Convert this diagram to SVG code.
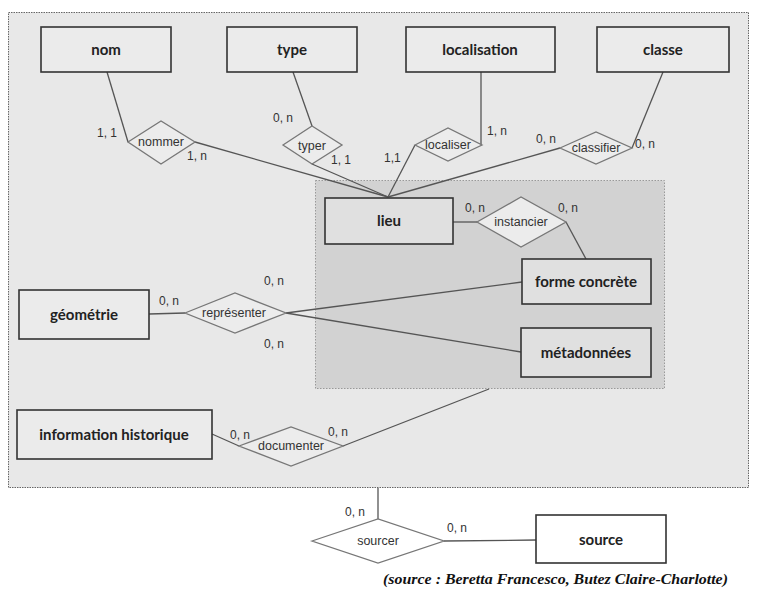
<svg xmlns="http://www.w3.org/2000/svg" width="758" height="600" viewBox="0 0 758 600">
<style>
.ent{fill:#ebebeb;stroke:#333;stroke-width:1.6}
.ent2{fill:#e0e0e0;stroke:#333;stroke-width:1.6}
.rel{fill:#ececec;stroke:#777;stroke-width:1.3}
.et{font-family:Lato,"Open Sans",sans-serif;font-weight:bold;font-size:15px;fill:#222;text-anchor:middle}
.rt{font-family:"Liberation Sans",Arial,sans-serif;font-size:12.5px;fill:#333;text-anchor:middle}
.ct{font-family:"Liberation Sans",Arial,sans-serif;font-size:12px;fill:#333}
.ln{stroke:#555;stroke-width:1.3;fill:none}
</style>
<rect width="758" height="600" fill="#fff"/>
<rect x="8.5" y="12.5" width="740" height="475" fill="#e8e8e8" stroke="#666" stroke-width="1" stroke-dasharray="1.5,1"/>
<rect x="315.5" y="180.5" width="349" height="208" fill="#d2d2d2" stroke="#999" stroke-width="1" stroke-dasharray="1.5,1.5"/>
<g id="connectors">
<line class="ln" x1="107" y1="72" x2="128" y2="142"/>
<line class="ln" x1="195" y1="142" x2="388" y2="197"/>
<line class="ln" x1="293" y1="72" x2="312" y2="126"/>
<line class="ln" x1="312" y1="164" x2="388" y2="197"/>
<line class="ln" x1="481" y1="72" x2="481" y2="145"/>
<line class="ln" x1="415" y1="145" x2="388" y2="197"/>
<line class="ln" x1="560" y1="148" x2="388" y2="197"/>
<line class="ln" x1="663" y1="72" x2="632" y2="148"/>
<line class="ln" x1="453" y1="222" x2="477" y2="222"/>
<line class="ln" x1="566" y1="222" x2="586" y2="259"/>
<line class="ln" x1="149" y1="314" x2="185" y2="313"/>
<line class="ln" x1="286" y1="313" x2="522" y2="282"/>
<line class="ln" x1="286" y1="313" x2="521" y2="352"/>
<line class="ln" x1="212" y1="434" x2="239" y2="446"/>
<line class="ln" x1="343" y1="446" x2="489" y2="389"/>
<line class="ln" x1="378" y1="488" x2="378" y2="519"/>
<line class="ln" x1="444" y1="541" x2="536" y2="540"/>
</g>
<g id="nom"><rect class="ent" x="41" y="27" width="130" height="45"/><text class="et" x="106" y="55">nom</text></g>
<g id="type"><rect class="ent" x="227" y="27" width="130" height="45"/><text class="et" x="292" y="55">type</text></g>
<g id="localisation"><rect class="ent" x="406" y="27" width="149" height="45"/><text class="et" x="480" y="55">localisation</text></g>
<g id="classe"><rect class="ent" x="597" y="27" width="132" height="45"/><text class="et" x="663" y="55">classe</text></g>
<g id="lieu"><rect class="ent2" x="325" y="198" width="128" height="46"/><text class="et" x="389" y="226">lieu</text></g>
<g id="forme"><rect class="ent2" x="522" y="259" width="129" height="45"/><text class="et" x="586" y="287">forme concrète</text></g>
<g id="metadonnees"><rect class="ent2" x="521" y="328" width="130" height="49"/><text class="et" x="586" y="358">métadonnées</text></g>
<g id="geometrie"><rect class="ent" x="19" y="290" width="130" height="49"/><text class="et" x="84" y="320">géométrie</text></g>
<g id="information"><rect class="ent" x="17" y="410" width="195" height="49"/><text class="et" x="114" y="440">information historique</text></g>
<g id="source"><rect fill="#fff" stroke="#333" stroke-width="1.6" x="536" y="515" width="130" height="48"/><text class="et" x="601" y="545">source</text></g>

<g id="nommer"><polygon class="rel" points="128,142 161,121 195,142 161,164"/><text class="rt" x="161" y="146">nommer</text></g>
<g id="typer"><polygon class="rel" points="283,145 312,126 342,145 312,164"/><text class="rt" x="312" y="150">typer</text></g>
<g id="localiser"><polygon class="rel" points="415,145 448,128 482,145 448,161"/><text class="rt" x="448" y="149">localiser</text></g>
<g id="classifier"><polygon class="rel" points="560,148 596,132 632,148 596,164"/><text class="rt" x="596" y="152">classifier</text></g>
<g id="instancier"><polygon class="rel" points="477,222 521,197 566,222 521,247"/><text class="rt" x="521" y="226">instancier</text></g>
<g id="representer"><polygon class="rel" points="185,313 235,293 286,313 235,333"/><text class="rt" x="234" y="317">représenter</text></g>
<g id="documenter"><polygon class="rel" points="239,446 291,427 343,446 291,466"/><text class="rt" x="291" y="450">documenter</text></g>
<g id="sourcer"><polygon fill="#fff" stroke="#777" stroke-width="1.3" points="312,541 378,519 444,541 378,563"/><text class="rt" x="378" y="545">sourcer</text></g>

<g id="cardinalities">
<text class="ct" x="97" y="137">1, 1</text>
<text class="ct" x="187" y="160">1, n</text>
<text class="ct" x="273" y="122">0, n</text>
<text class="ct" x="331" y="164">1, 1</text>
<text class="ct" x="384" y="162">1,1</text>
<text class="ct" x="487" y="135">1, n</text>
<text class="ct" x="536" y="143">0, n</text>
<text class="ct" x="635" y="148">0, n</text>
<text class="ct" x="465" y="212">0, n</text>
<text class="ct" x="558" y="212">0, n</text>
<text class="ct" x="264" y="285">0, n</text>
<text class="ct" x="159" y="305">0, n</text>
<text class="ct" x="264" y="348">0, n</text>
<text class="ct" x="230" y="439">0, n</text>
<text class="ct" x="328" y="436">0, n</text>
<text class="ct" x="345" y="516">0, n</text>
<text class="ct" x="447" y="532">0, n</text>
</g>
<text x="383" y="584" font-family="'Liberation Serif','Times New Roman',serif" font-style="italic" font-weight="bold" font-size="15" fill="#111" textLength="345" lengthAdjust="spacingAndGlyphs">(source : Beretta Francesco, Butez Claire-Charlotte)</text>
</svg>
